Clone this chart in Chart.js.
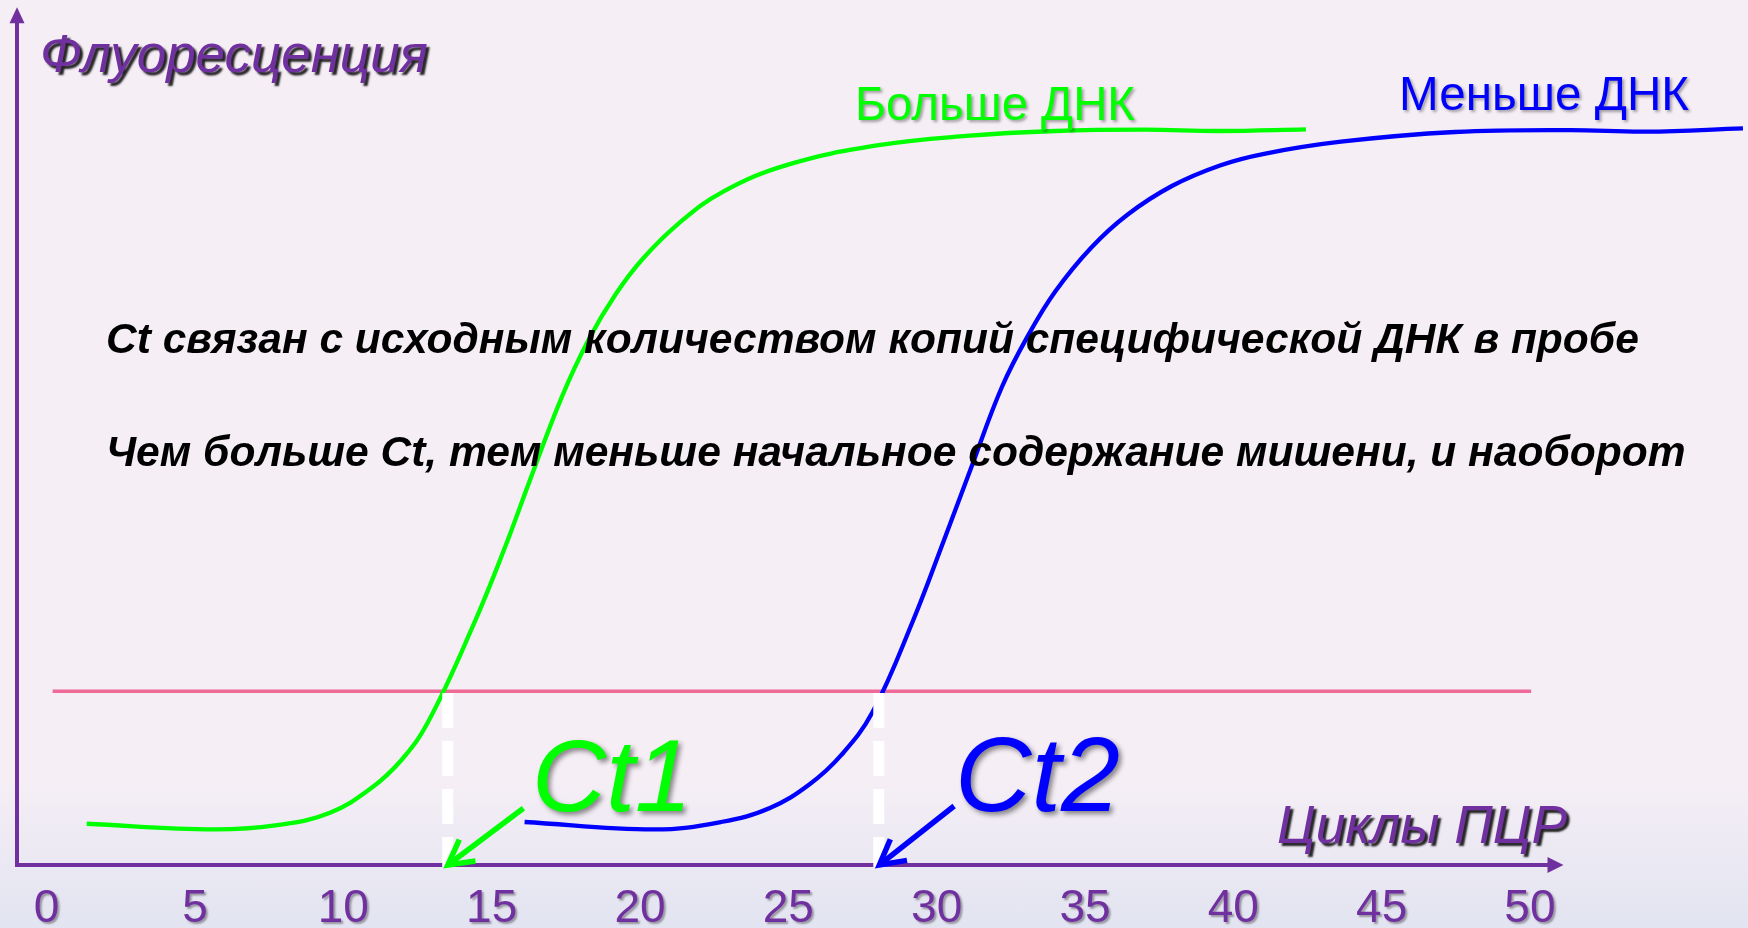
<!DOCTYPE html>
<html><head><meta charset="utf-8">
<script src="https://cdn.jsdelivr.net/npm/chart.js@4.4.1/dist/chart.umd.min.js"></script>
<style>
html,body{margin:0;padding:0;width:1748px;height:928px;overflow:hidden;}
body{background:linear-gradient(to bottom,#F5EEF5 0%,#F5EEF5 84%,#E2E4F1 100%);}
canvas{display:block;}
</style></head><body>
<canvas id="c" width="1748" height="928"></canvas>
<script>
// ---- data ----
const tickValues = [0, 5, 10, 15, 20, 25, 30, 35, 40, 45, 50];
const tickLabels = ['0', '5', '10', '15', '20', '25', '30', '35', '40', '45', '50'];

const seriesNames = ['Больше ДНК', 'Меньше ДНК'];

const greenCycles = [1.35, 5.64, 7.90, 9.55, 10.91, 11.96, 12.86, 14.37, 15.42, 16.32, 17.37, 18.28, 19.18, 20.08, 21.29, 22.79, 24.99, 27.99, 30.99, 34.01, 37.02, 39.55, 42.45];
const greenFluor  = [4.66, 4.00, 4.56, 5.94, 8.70, 12.04, 16.46, 27.55, 36.39, 44.69, 54.10, 60.76, 65.94, 70.00, 74.10, 77.80, 80.95, 83.17, 84.27, 84.84, 84.99, 84.84, 85.03];

const blueCycles = [16.11, 20.47, 22.73, 24.38, 25.73, 26.79, 27.84, 29.20, 30.25, 31.16, 32.20, 33.11, 34.01, 35.20, 36.42, 37.93, 39.55, 41.04, 43.63, 47.47, 51.33, 53.91, 57.18];
const blueFluor  = [4.86, 4.00, 4.86, 6.48, 9.26, 12.62, 17.59, 28.13, 37.50, 45.83, 55.21, 61.34, 66.32, 71.30, 75.12, 78.47, 80.85, 82.20, 83.60, 84.72, 84.95, 84.76, 85.15];

const thresholdCycles = [0.2, 50.04];
const thresholdFluor = [20, 20];

const ctLabels = ['Ct1', 'Ct2'];
const ctCycles = [13.52, 28.05];

// ---- annotation anchors (data units) ----
const ctArrowFrom = [[16.07, 6.45], [30.59, 6.71]];
const ctArrowTip  = [[13.52, -0.12], [28.07, -0.12]];
const axisOrigin = [-1, 0];
const axisTips = [51.13, 99.15];

const GREEN = '#00FF00', BLUE = '#0000FF', PURPLE = '#7030A0', PINK = '#EF6A97';
const FAM = '"Liberation Sans", Arial, sans-serif';

function pts(xs, ys){ return xs.map((x,i)=>({x:x, y:ys[i]})); }

function fitText(ctx, text, x, y, w, style, color, shadow){
  ctx.save();
  ctx.font = style + ' 100px ' + FAM;
  const m = ctx.measureText(text).width;
  const size = 100 * w / m;
  ctx.font = style + ' ' + size.toFixed(2) + 'px ' + FAM;
  ctx.textAlign = 'left';
  ctx.textBaseline = 'alphabetic';
  ctx.fillStyle = color;
  if (shadow){
    ctx.shadowColor = shadow[0];
    ctx.shadowOffsetX = shadow[1];
    ctx.shadowOffsetY = shadow[2];
    ctx.shadowBlur = shadow[3];
  }
  ctx.fillText(text, x, y);
  ctx.restore();
}

const deco = {
  id: 'deco',
  beforeDraw(chart){
    const ctx = chart.ctx;
    ctx.save();
    ctx.shadowColor = 'rgba(0,0,0,0.35)';
    ctx.shadowOffsetX = 2; ctx.shadowOffsetY = 2; ctx.shadowBlur = 2;
  },
  beforeDatasetsDraw(chart){
    const ctx = chart.ctx;
    ctx.restore();
    const xs = chart.scales.x, ys = chart.scales.y;
    const x0 = xs.getPixelForValue(axisOrigin[0]);
    const y0 = ys.getPixelForValue(axisOrigin[1]) + 1;
    const tipX = xs.getPixelForValue(axisTips[0]);
    const tipY = ys.getPixelForValue(axisTips[1]);
    ctx.save();
    ctx.strokeStyle = PURPLE; ctx.fillStyle = PURPLE; ctx.lineWidth = 4;
    ctx.beginPath();
    ctx.moveTo(x0, y0 + 2); ctx.lineTo(x0, tipY + 14);
    ctx.moveTo(x0 - 2, y0); ctx.lineTo(tipX - 14, y0);
    ctx.stroke();
    ctx.beginPath();
    ctx.moveTo(x0, tipY); ctx.lineTo(x0 - 7.5, tipY + 16); ctx.lineTo(x0 + 7.5, tipY + 16); ctx.closePath();
    ctx.fill();
    ctx.beginPath();
    ctx.moveTo(tipX, y0); ctx.lineTo(tipX - 16, y0 - 8); ctx.lineTo(tipX - 16, y0 + 8); ctx.closePath();
    ctx.fill();
    ctx.restore();
  },
  afterDatasetsDraw(chart){
    const ctx = chart.ctx;
    const xs = chart.scales.x, ys = chart.scales.y;
    const cols = [GREEN, BLUE];
    ctx.save();
    ctx.lineWidth = 5.5; ctx.lineCap = 'butt'; ctx.lineJoin = 'miter';
    for (let i = 0; i < 2; i++){
      const fx = xs.getPixelForValue(ctArrowFrom[i][0]), fy = ys.getPixelForValue(ctArrowFrom[i][1]);
      const tx = xs.getPixelForValue(ctArrowTip[i][0]), ty = ys.getPixelForValue(ctArrowTip[i][1]);
      const a = Math.atan2(fy - ty, fx - tx);
      const L = 28, s = 0.5;
      ctx.strokeStyle = cols[i];
      ctx.beginPath();
      ctx.moveTo(fx, fy); ctx.lineTo(tx + 3*Math.cos(a), ty + 3*Math.sin(a));
      ctx.stroke();
      ctx.beginPath();
      ctx.moveTo(tx + L*Math.cos(a - s), ty + L*Math.sin(a - s));
      ctx.lineTo(tx, ty);
      ctx.lineTo(tx + L*Math.cos(a + s), ty + L*Math.sin(a + s));
      ctx.stroke();
    }
    ctx.restore();
  },
  afterDraw(chart){
    const ctx = chart.ctx;
    const dark = ['rgba(0,0,0,0.85)', 3, 3, 2];
    const soft = ['rgba(0,0,0,0.35)', 2, 2, 3];
    const ctShadow = ['rgba(0,0,0,0.45)', 3, 3, 5];
    fitText(ctx, 'Флуоресценция', 40, 72, 388, 'italic', PURPLE, dark);
    fitText(ctx, 'Циклы ПЦР', 1277, 843, 290, 'italic', PURPLE, dark);
    fitText(ctx, seriesNames[0], 855, 120, 280, 'normal', GREEN, soft);
    fitText(ctx, seriesNames[1], 1399, 110, 290, 'normal', BLUE, soft);
    fitText(ctx, 'Ct связан с исходным количеством копий специфической ДНК в пробе', 106, 353, 1533, 'italic bold', '#000000', null);
    fitText(ctx, 'Чем больше Ct, тем меньше начальное содержание мишени, и наоборот', 106, 466, 1580, 'italic bold', '#000000', null);
    fitText(ctx, ctLabels[0], 532, 811, 160, 'italic', GREEN, ctShadow);
    fitText(ctx, ctLabels[1], 955, 811, 165, 'italic', BLUE, ctShadow);
  }
};

const datasets = [
  { label: 'dash1', data: [{x: ctCycles[0], y: thresholdFluor[0] - 0.2}, {x: ctCycles[0], y: -0.35}],
    borderColor: '#FFFFFF', borderWidth: 11, borderDash: [35, 13], pointRadius: 0, order: 1, clip: false },
  { label: 'dash2', data: [{x: ctCycles[1], y: thresholdFluor[0] - 0.2}, {x: ctCycles[1], y: -0.35}],
    borderColor: '#FFFFFF', borderWidth: 11, borderDash: [35, 13], pointRadius: 0, order: 1, clip: false },
  { label: seriesNames[0], data: pts(greenCycles, greenFluor), borderColor: GREEN, borderWidth: 4.3,
    pointRadius: 0, tension: 0.4, order: 2 },
  { label: seriesNames[1], data: pts(blueCycles, blueFluor), borderColor: BLUE, borderWidth: 4.3,
    pointRadius: 0, tension: 0.4, order: 3 },
  { label: 'threshold', data: pts(thresholdCycles, thresholdFluor), borderColor: PINK, borderWidth: 3.5,
    pointRadius: 0, order: 4 }
];

new Chart(document.getElementById('c'), {
  type: 'line',
  data: { datasets: datasets },
  options: {
    responsive: false,
    animation: false,
    devicePixelRatio: 1,
    layout: { padding: { left: 17, right: 0, top: 0, bottom: 0 } },
    plugins: { legend: { display: false }, tooltip: { enabled: false } },
    scales: {
      x: {
        type: 'linear', min: -1, max: 57.35,
        grid: { display: false, drawTicks: false },
        border: { display: false },
        afterBuildTicks(scale){ scale.ticks = tickValues.map(v => ({ value: v })); },
        afterFit(scale){ scale.height = 64; },
        ticks: {
          padding: 18, color: PURPLE, maxRotation: 0, autoSkip: false,
          font: { family: FAM, size: 46 },
          callback: (v) => { const i = tickValues.indexOf(v); return i >= 0 ? tickLabels[i] : ''; }
        }
      },
      y: { type: 'linear', min: 0, max: 100, display: false }
    }
  },
  plugins: [deco]
});
</script>
</body></html>
